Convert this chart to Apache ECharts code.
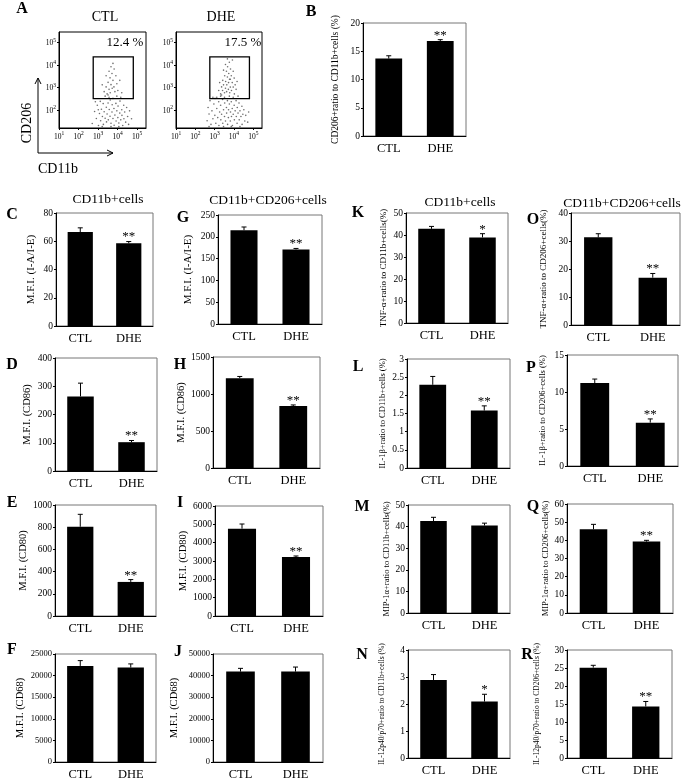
<!DOCTYPE html>
<html><head><meta charset="utf-8">
<script src="https://cdn.jsdelivr.net/npm/echarts@6/dist/echarts.min.js"></script>
<style>html,body{margin:0;padding:0;background:#fff}#c{width:683px;height:781px}</style>
</head><body><div id="c"></div>
<script>
// ---------------- data ----------------
const categories = ['CTL', 'DHE'];

// Panel A: flow cytometry (log10 CD11b, log10 CD206)
const flowXTicks = [1, 2, 3, 4, 5];
const flowYTicks = [2, 3, 4, 5];
const gateBounds = [2.75, 4.8, 2.5, 4.35];
const ctlGatePercent = '12.4 %';
const dheGatePercent = '17.5 %';
const ctlFlowPoints = [
 [2.7,1.4],[2.82,1.93],[2.91,1.62],[2.96,2.21],[3.02,1.31],[3.07,1.84],[3.11,2.38],[3.13,1.52],[3.17,2.03],[3.22,1.71],
 [3.26,2.28],[3.27,1.36],[3.31,1.92],[3.36,1.63],[3.42,2.12],[3.43,1.47],[3.46,1.82],[3.51,2.31],[3.52,1.56],[3.57,2.02],
 [3.61,1.72],[3.62,2.44],[3.66,1.41],[3.71,1.91],[3.72,2.23],[3.76,1.62],[3.81,2.06],[3.82,1.32],[3.86,1.77],[3.91,2.29],
 [3.92,1.51],[3.96,1.96],[4.01,1.66],[4.02,2.17],[4.06,1.42],[4.11,1.86],[4.12,2.39],[4.16,1.56],[4.21,2.01],[4.22,1.76],
 [4.26,1.31],[4.31,2.21],[4.32,1.61],[4.36,1.91],[4.41,1.46],[4.46,2.11],[4.51,1.71],[4.56,1.36],[4.61,1.96],[4.71,1.61],
 [3.36,2.61],[3.56,2.56],[3.76,2.51],[3.96,2.61],[4.16,2.56],[2.86,2.36],[3.01,2.01],[3.21,1.26],[3.66,1.26],[4.06,1.26],
 [3.31,2.81],[3.41,3.02],[3.46,2.71],[3.51,3.22],[3.56,2.91],[3.61,3.42],[3.62,2.76],[3.66,3.12],[3.71,3.61],[3.72,2.96],
 [3.76,3.31],[3.81,3.02],[3.82,3.81],[3.86,2.81],[3.91,3.51],[3.56,3.71],[3.66,3.91],[3.41,3.51],[3.96,3.16],[4.01,2.86],
 [4.11,3.31],[3.21,3.11],[3.76,4.06],[3.51,2.66],[4.21,2.76]
];
const dheFlowPoints = [
 [2.61,1.52],[2.66,2.11],[2.71,1.82],[2.76,2.41],[2.81,1.36],[2.86,1.96],[2.91,1.61],[2.96,2.26],[3.01,1.76],[3.02,2.51],
 [3.06,1.41],[3.11,2.06],[3.16,1.66],[3.21,2.36],[3.22,1.31],[3.26,1.91],[3.31,2.21],[3.32,1.56],[3.36,1.81],[3.41,2.46],
 [3.42,1.41],[3.46,2.01],[3.51,1.71],[3.52,2.31],[3.56,1.51],[3.61,2.11],[3.62,1.86],[3.66,2.41],[3.67,1.36],[3.71,1.66],
 [3.72,2.01],[3.76,2.26],[3.81,1.51],[3.82,1.91],[3.86,2.36],[3.87,1.71],[3.91,2.06],[3.92,1.31],[3.96,1.81],[4.01,2.21],
 [4.02,1.56],[4.06,1.96],[4.11,2.41],[4.12,1.71],[4.16,1.41],[4.17,2.11],[4.21,1.86],[4.26,2.31],[4.27,1.56],[4.31,1.96],
 [4.36,1.71],[4.41,2.16],[4.42,1.36],[4.46,1.81],[4.51,2.01],[4.56,1.51],[4.61,1.76],[4.71,1.46],[4.76,1.91],[3.11,2.56],
 [3.31,2.61],[3.51,2.56],[3.76,2.61],[3.96,2.56],[4.21,2.61],[2.91,2.56],[3.46,1.26],[3.86,1.26],[4.31,1.26],[2.71,1.26],
 [3.31,2.71],[3.36,3.02],[3.41,2.86],[3.42,3.31],[3.46,3.11],[3.51,2.76],[3.52,3.51],[3.56,2.96],[3.57,3.26],[3.61,3.71],
 [3.62,2.81],[3.63,3.11],[3.66,3.46],[3.67,3.91],[3.71,2.91],[3.72,3.21],[3.73,3.61],[3.76,4.11],[3.77,3.36],[3.78,2.76],
 [3.81,3.01],[3.82,3.81],[3.86,3.51],[3.87,2.86],[3.91,3.21],[3.92,4.21],[3.96,3.01],[4.01,3.41],[4.02,2.71],[4.06,3.11],
 [4.11,2.91],[3.26,3.21],[3.21,2.86],[3.56,4.01],[3.66,4.26],[3.81,3.36],[4.16,3.26],[3.46,3.76],[3.96,3.71],[3.36,2.66]
];

// Bar panels: mean, error (SE), significance
const bMean = [13.7, 16.8], bErr = [0.5, 0.25], bSig = ['', '**'];
const cMean = [66.5, 58.6], cErr = [3.0, 1.2], cSig = ['', '**'];
const gMean = [215, 171], gErr = [7.5, 2.3], gSig = ['', '**'];
const kMean = [42.8, 38.9], kErr = [1.1, 1.7], kSig = ['', '*'];
const oMean = [31.3, 16.9], oErr = [1.3, 1.5], oSig = ['', '**'];
const dMean = [264, 102], dErr = [47, 6], dSig = ['', '**'];
const hMean = [1214, 838], hErr = [23, 14], hSig = ['', '**'];
const lMean = [2.29, 1.58], lErr = [0.23, 0.13], lSig = ['', '**'];
const pMean = [11.2, 5.86], pErr = [0.55, 0.5], pSig = ['', '**'];
const eMean = [804, 307], eErr = [112, 21], eSig = ['', '**'];
const iMean = [4764, 3218], iErr = [254, 55], iSig = ['', '**'];
const mMean = [42.6, 40.5], mErr = [1.7, 1.1], mSig = ['', ''];
const qMean = [46.1, 39.3], qErr = [2.7, 0.7], qSig = ['', '**'];
const fMean = [22240, 21856], fErr = [1230, 850], fSig = ['', ''];
const jMean = [41843, 41843], jErr = [1510, 2115], jSig = ['', ''];
const nMean = [2.89, 2.09], nErr = [0.2, 0.27], nSig = ['', '*'];
const rMean = [25.1, 14.3], rErr = [0.65, 1.4], rSig = ['', '**'];

// ---------------- layout ----------------
const FONT = 'Liberation Serif';
const panels = [
 {letter:'B', pos:[311,12], rect:[363,23,103,113], max:20, step:5, yName:'CD206+ratio to CD11b+cells (%)', ns:9.5, gap:23, mean:bMean, err:bErr, sig:bSig},
 {letter:'C', pos:[12,215], rect:[56,213,97,113], max:80, step:20, yName:'M.F.I. (I-A/I-E)', ns:11, gap:19, mean:cMean, err:cErr, sig:cSig},
 {letter:'G', pos:[183,218], rect:[218,215,104,109], max:250, step:50, yName:'M.F.I. (I-A/I-E)', ns:11, gap:24, mean:gMean, err:gErr, sig:gSig},
 {letter:'K', pos:[358,213], rect:[406,213,102,110], max:50, step:10, yName:'TNF-α+ratio to CD11b+cells(%)', ns:9, gap:18, mean:kMean, err:kErr, sig:kSig},
 {letter:'O', pos:[533,220], rect:[571,213,109,112], max:40, step:10, yName:'TNF-α+ratio to CD206+cells(%)', ns:9, gap:23, mean:oMean, err:oErr, sig:oSig},
 {letter:'D', pos:[12,365], rect:[55,358,102,113], max:400, step:100, yName:'M.F.I. (CD86)', ns:10.5, gap:22, mean:dMean, err:dErr, sig:dSig},
 {letter:'H', pos:[180,365], rect:[213,357,107,111], max:1500, step:500, yName:'M.F.I. (CD86)', ns:10.5, gap:20, mean:hMean, err:hErr, sig:hSig},
 {letter:'L', pos:[358,367], rect:[407,359,103,109], max:3, step:0.5, yName:'IL-1β+ratio to CD11b+cells (%)', ns:8.5, gap:20, mean:lMean, err:lErr, sig:lSig},
 {letter:'P', pos:[531,368], rect:[567,355,111,111], max:15, step:5, yName:'IL-1β+ratio to CD206+cells (%)', ns:8.5, gap:20, mean:pMean, err:pErr, sig:pSig},
 {letter:'E', pos:[12,503], rect:[55,505,101,111], max:1000, step:200, yName:'M.F.I. (CD80)', ns:10.5, gap:20, mean:eMean, err:eErr, sig:eSig},
 {letter:'I', pos:[180,503], rect:[215,506,108,110], max:6000, step:1000, yName:'M.F.I. (CD80)', ns:10.5, gap:22, mean:iMean, err:iErr, sig:iSig},
 {letter:'M', pos:[362,507], rect:[408,505,102,108], max:50, step:10, yName:'MIP-1α+ratio to CD11b+cells(%)', ns:8.5, gap:17, mean:mMean, err:mErr, sig:mSig},
 {letter:'Q', pos:[533,507], rect:[567,504,106,109], max:60, step:10, yName:'MIP-1α+ratio to CD206+cells(%)', ns:8.5, gap:15, mean:qMean, err:qErr, sig:qSig},
 {letter:'F', pos:[12,650], rect:[55,654,101,109], max:25000, step:5000, yName:'M.F.I. (CD68)', ns:10.5, gap:29, mean:fMean, err:fErr, sig:fSig, ts:8.5},
 {letter:'J', pos:[178,652], rect:[213,654,110,110], max:50000, step:10000, yName:'M.F.I. (CD68)', ns:10.5, gap:33, mean:jMean, err:jErr, sig:jSig, ts:8.5},
 {letter:'N', pos:[362,655], rect:[408,650,102,108], max:4, step:1, yName:'IL-12p40/p70+ratio to CD11b+cells (%)', ns:7.5, gap:22, mean:nMean, err:nErr, sig:nSig},
 {letter:'R', pos:[527,655], rect:[567,650,105,108], max:30, step:5, yName:'IL-12p40/p70+ratio to CD206+cells (%)', ns:7.5, gap:26, mean:rMean, err:rErr, sig:rSig}
];

const grids = [], xAxes = [], yAxes = [], series = [];

// ---- Panel A flow plots ----
const flowRects = [[59,32,87,96],[176,32,86,96]];
const flowData = [ctlFlowPoints, dheFlowPoints];
const supLabel = v => '{a|10}{b|' + v + '}';
const supRich = {a:{fontFamily:FONT, fontSize:7.5, color:'#000', verticalAlign:'bottom', lineHeight:10},
                 b:{fontFamily:FONT, fontSize:5.5, color:'#000', verticalAlign:'top', lineHeight:10}};
flowRects.forEach((r, i) => {
  grids.push({left:r[0], top:r[1], width:r[2], height:r[3], show:true, borderColor:'#000', borderWidth:1});
  xAxes.push({type:'value', gridIndex:i, min:1, max:5.45,
    axisLine:{lineStyle:{color:'#000', width:1}}, splitLine:{show:false},
    axisTick:{customValues:flowXTicks, length:2, lineStyle:{color:'#000'}},
    axisLabel:{customValues:flowXTicks, formatter:supLabel, margin:3, color:'#000', rich:supRich}});
  yAxes.push({type:'value', gridIndex:i, min:1.2, max:5.45,
    axisLine:{lineStyle:{color:'#000', width:1}}, splitLine:{show:false},
    axisTick:{customValues:flowYTicks, length:2, lineStyle:{color:'#000'}},
    axisLabel:{customValues:flowYTicks, formatter:supLabel, margin:3, color:'#000', rich:supRich}});
  series.push({type:'scatter', xAxisIndex:i, yAxisIndex:i, data:flowData[i], symbolSize:1.6,
    itemStyle:{color:'#555', opacity:0.85}, silent:true});
  series.push({type:'custom', xAxisIndex:i, yAxisIndex:i, data:[gateBounds], silent:true, z:5,
    renderItem:(params, api) => {
      const p1 = api.coord([api.value(0), api.value(3)]);
      const p2 = api.coord([api.value(1), api.value(2)]);
      return {type:'rect', shape:{x:p1[0], y:p1[1], width:p2[0]-p1[0], height:p2[1]-p1[1]},
        style:{fill:'none', stroke:'#000', lineWidth:1.3}};
    }});
});

// ---- Bar panels ----
panels.forEach((p, k) => {
  const gi = k + 2;
  const r = p.rect;
  grids.push({left:r[0], top:r[1], width:r[2], height:r[3], show:true, borderColor:'#777', borderWidth:1});
  xAxes.push({type:'category', gridIndex:gi, data:categories,
    axisLine:{lineStyle:{color:'#000', width:1}},
    axisTick:{inside:true, length:3, lineStyle:{color:'#555'}},
    axisLabel:{fontFamily:FONT, fontSize:12.5, color:'#000', margin:6}});
  yAxes.push({type:'value', gridIndex:gi, min:0, max:p.max, interval:p.step,
    axisLine:{show:true, lineStyle:{color:'#000', width:1}},
    axisTick:{show:true, length:2, lineStyle:{color:'#000'}},
    splitLine:{show:false},
    axisLabel:{fontFamily:FONT, fontSize:p.ts || 9.5, color:'#000', margin:3, formatter:v => String(v)},
    name:p.yName, nameLocation:'middle', nameRotate:90, nameGap:p.gap,
    nameTextStyle:{fontFamily:FONT, fontSize:p.ns, color:'#000'}});
  series.push({type:'bar', xAxisIndex:gi, yAxisIndex:gi, data:p.mean, barWidth:'52%',
    itemStyle:{color:'#000'}, silent:true});
  series.push({type:'custom', xAxisIndex:gi, yAxisIndex:gi, silent:true, z:5,
    data:p.mean.map((m, j) => [j, m, p.err[j]]),
    encode:{x:0, y:1},
    renderItem:(params, api) => {
      const x = api.value(0), m = api.value(1), e = api.value(2);
      const base = api.coord([x, m]);
      const top = api.coord([x, m + e]);
      const sig = p.sig[params.dataIndex];
      const children = [
        {type:'line', shape:{x1:base[0], y1:base[1], x2:top[0], y2:top[1]}, style:{stroke:'#000', lineWidth:1}},
        {type:'line', shape:{x1:top[0]-2.5, y1:top[1], x2:top[0]+2.5, y2:top[1]}, style:{stroke:'#000', lineWidth:1}}
      ];
      if (sig) children.push({type:'text', x:top[0], y:top[1]+2,
        style:{text:sig, fontFamily:FONT, fontSize:13, fill:'#000', align:'center', verticalAlign:'bottom'}});
      return {type:'group', children};
    }});
});

// ---- Text / decorations ----
const graphic = [];
const txt = (x, y, s, size) => graphic.push({type:'text', x, y,
  style:{text:s, fontFamily:FONT, fontSize:size, fill:'#000', align:'center', verticalAlign:'middle'}});
const bold = (x, y, s) => graphic.push({type:'text', x, y,
  style:{text:s, fontFamily:FONT, fontSize:16, fontWeight:'bold', fill:'#000', align:'center', verticalAlign:'middle'}});
bold(22, 9, 'A');
panels.forEach(p => bold(p.pos[0], p.pos[1], p.letter));
txt(105, 17, 'CTL', 14);
txt(221, 17, 'DHE', 14);
txt(125, 43, ctlGatePercent, 13);
txt(243, 43, dheGatePercent, 13);
txt(108, 199, 'CD11b+cells', 13.5);
txt(268, 200, 'CD11b+CD206+cells', 13.5);
txt(460, 202, 'CD11b+cells', 13.5);
txt(622, 203, 'CD11b+CD206+cells', 13.5);
txt(58, 169, 'CD11b', 14);
graphic.push({type:'text', x:27, y:123, rotation:Math.PI/2,
  style:{text:'CD206', fontFamily:FONT, fontSize:14, fill:'#000', align:'center', verticalAlign:'middle'}});
graphic.push({type:'polyline', shape:{points:[[38,78],[38,153],[113,153]]}, style:{stroke:'#000', lineWidth:1, fill:'none'}});
graphic.push({type:'polyline', shape:{points:[[35,84],[38,78],[41,84]]}, style:{stroke:'#000', lineWidth:1, fill:'none'}});
graphic.push({type:'polyline', shape:{points:[[107,150],[113,153],[107,156]]}, style:{stroke:'#000', lineWidth:1, fill:'none'}});

const chart = echarts.init(document.getElementById('c'), null, {renderer:'canvas'});
chart.setOption({
  animation:false,
  backgroundColor:'#fff',
  grid:grids, xAxis:xAxes, yAxis:yAxes, series, graphic
});
</script>
</body></html>
